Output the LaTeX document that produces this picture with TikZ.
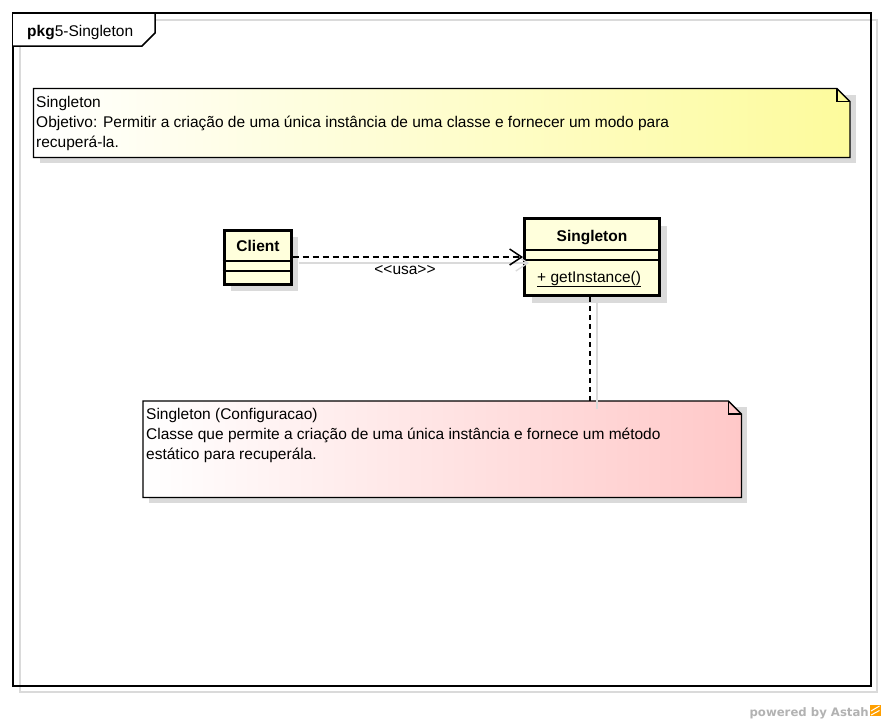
\documentclass[tikz,border=0pt]{standalone}
\usepackage{fontspec}
\setmainfont{Liberation Sans}
\newfontfamily\astahfont{DejaVu Sans}
\usetikzlibrary{arrows.meta,shadows}

\definecolor{classfill}{HTML}{FFFFDC}
\definecolor{noteyellow}{HTML}{FDFB9C}
\definecolor{notepink}{HTML}{FFC8C8}
\definecolor{shadowgray}{HTML}{DADADA}

\newcommand\umlfont{\fontsize{15.5}{20}\selectfont}

\tikzset{
  umltext/.style={font=\umlfont, inner sep=0pt, anchor=base west},
  classbox/.style={draw, line width=3pt, fill=classfill, inner sep=0pt,
    drop shadow={shadow xshift=7pt, shadow yshift=-7pt, fill=shadowgray, opacity=1}},
  classname/.style={font=\umlfont\bfseries, inner sep=0pt, anchor=base},
  notebox/.style={inner sep=0pt, anchor=north west},
  noteline/.style={draw, line width=1.3pt},
  dep/.style={dash pattern=on 6pt off 4pt, line width=1.5pt,
    -{Straight Barb[length=12pt,width=16pt,line width=1.5pt]}},
  notelink/.style={dash pattern=on 5pt off 4pt, line width=1.5pt},
  shadowline/.style={shadowgray, line width=1.3pt}
}

\begin{document}
\begin{tikzpicture}[x=1pt,y=-1pt]
  \useasboundingbox (0,0) rectangle (884,726);
  % package frame
  \draw[shadowgray, line width=1.5pt] (20,20) rectangle (877,692);
  \draw[line width=1.5pt] (13,13) rectangle (871,686);
  \draw[line width=1.5pt, fill=white] (13,13) -- (155,13) -- (155,33) -- (142,46) -- (13,46);
  \node[umltext] (pkglabel) at (27,36.5) {\textbf{pkg}5-Singleton};

  % notes
  \node[notebox, minimum width=816pt, minimum height=68.5pt] (note1) at (33.5,88.5) {};
  \node[notebox, minimum width=598pt, minimum height=96pt] (note2) at (143,401) {};
  \foreach \nt/\nc in {note1/noteyellow, note2/notepink} {
    \fill[shadowgray] ([shift={(6,6)}]\nt.north west) rectangle ([shift={(6,6)}]\nt.south east);
    \path[noteline, left color=white, right color=\nc]
      (\nt.north west) -- ([xshift=-13pt]\nt.north east) -- ([yshift=-13pt]\nt.north east)
      -- (\nt.south east) -- (\nt.south west) -- cycle;
    \draw[line width=1.3pt] ([xshift=-13pt]\nt.north east) |- ([yshift=-13pt]\nt.north east);
  }
  \node[umltext] (note1a) at (36,107) {Singleton};
  \node[umltext] (note1b) at (36,127) {Objetivo: Permitir a criação de uma única instância de uma classe e fornecer um modo para};
  \node[umltext] (note1c) at (36,147) {recuperá-la.};
  \node[umltext] (note2a) at (146,419) {Singleton (Configuracao)};
  \node[umltext] (note2b) at (146,439) {Classe que permite a criação de uma única instância e fornece um método};
  \node[umltext] (note2c) at (146,459) {estático para recuperála.};

  % classes
  \node[classbox, minimum width=67pt, minimum height=54pt] (client) at (257.5,257) {};
  \node[classbox, minimum width=135pt, minimum height=77pt] (singleton) at (592,257) {};
  \draw[line width=1.3pt] (client.west |- 0,261) -- (client.east |- 0,261);
  \draw[line width=1.3pt] (client.west |- 0,271) -- (client.east |- 0,271);
  \draw[line width=1.3pt] (singleton.west |- 0,250) -- (singleton.east |- 0,250);
  \draw[line width=1.3pt] (singleton.west |- 0,260) -- (singleton.east |- 0,260);
  \node[classname] (clientname) at (258,251.5) {Client};
  \node[classname] (singletonname) at (592,241) {Singleton};
  \node[umltext] (getinstance) at (537,282) {\underline{+ getInstance()}};

  % connectors
  \draw[shadowline, -{Straight Barb[length=12pt,width=16pt]}]
    ([shift={(6,6)}]client.east) -- ([shift={(6,6)}]singleton.west);
  \draw[dep] (client.east) -- (singleton.west);
  \node[font=\umlfont, inner sep=0pt, anchor=base] (usa) at (405,274) {{<}{<}usa{>}{>}};
  \draw[shadowline] ([xshift=5pt]singleton.south) -- ([shift={(5,8)}]singleton.south |- note2.north);
  \draw[notelink] ([xshift=-2pt]singleton.south) -- ([xshift=-2pt]singleton.south |- note2.north);

  % footer
  \node[font=\astahfont\bfseries\fontsize{11.7}{14}\selectfont, text=black!30,
    inner sep=0pt, anchor=base east] (powered) at (869,716) {powered by Astah};
  \fill[orange!75!yellow] (870,705) rectangle (880.5,716);
  \draw[white, line width=1pt] (871,711) -- (879.5,706) (871,715) -- (879.5,710.5);
\end{tikzpicture}
\end{document}
